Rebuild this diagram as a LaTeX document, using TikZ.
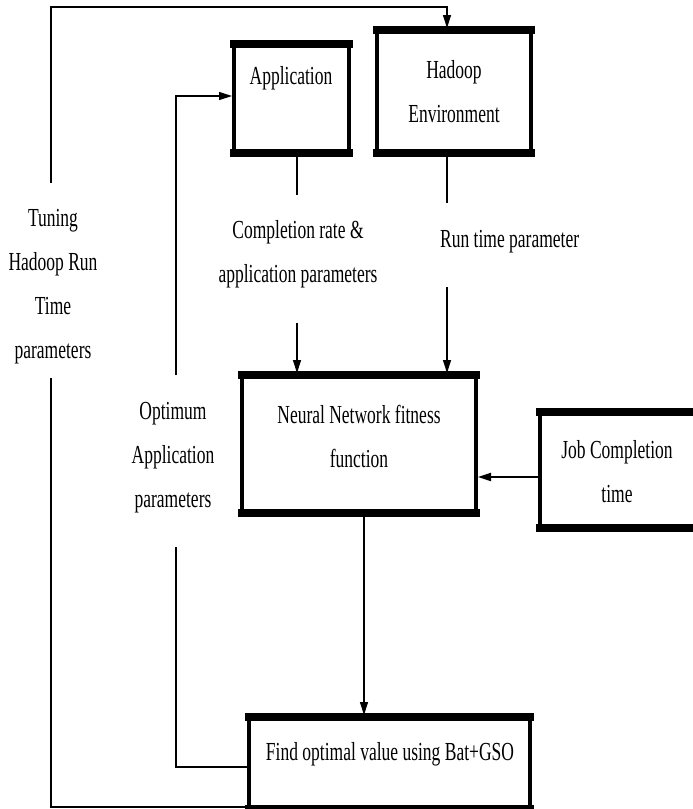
\documentclass[tikz,border=0pt]{standalone}
\usepackage{fontspec}
\setmainfont{Liberation Serif}[FakeStretch=0.673]
\usetikzlibrary{arrows.meta}
\tikzset{
  boxnode/.style={draw, line width=4pt, inner sep=0pt},
  band/.style={line width=8pt, shorten <=-2pt, shorten >=-2pt},
  txt/.style={font=\fontsize{26}{44}\selectfont, align=center, inner sep=0pt, anchor=base},
  conn/.style={line width=1.3pt},
  arr/.style={line width=1.3pt, -{Triangle[length=13pt,width=8pt]}},
}
\newcommand\boxbands[1]{%
  \draw[band] ([yshift=-2pt]#1.north west) -- ([yshift=-2pt]#1.north east);
  \draw[band] ([yshift=2pt]#1.south west) -- ([yshift=2pt]#1.south east);}
\begin{document}
\begin{tikzpicture}[x=1pt,y=-1pt]
\useasboundingbox (0,0) rectangle (693,809);
% boxes
\node[boxnode, minimum width=115pt, minimum height=109pt] (app) at (291.5,98.5) {};
\node[boxnode, minimum width=154pt, minimum height=123pt] (had) at (454,91.5) {};
\node[boxnode, minimum width=234pt, minimum height=138pt] (nn) at (359,444) {};
\node[boxnode, minimum width=178pt, minimum height=116pt] (job) at (629,470) {};
\node[boxnode, minimum width=281pt, minimum height=92pt] (find) at (389.5,763) {};
\boxbands{app}\boxbands{had}\boxbands{nn}\boxbands{job}\boxbands{find}
% box texts (base = baseline of last line)
\node[txt] (appT) at (291,84) {Application};
\node[txt] (hadT) at (454,122) {Hadoop\\Environment};
\node[txt] (nnT) at (359,467) {Neural Network fitness\\function};
\node[txt] (jobT) at (617,502) {Job Completion\\time};
\node[txt] (findT) at (390,760) {Find optimal value using Bat+GSO};
% labels
\node[txt] (comp) at (298,282) {Completion rate \&\\application parameters};
\node[txt, anchor=base west] (run) at (440,247) {Run time parameter};
\node[txt] (tune) at (53,358) {Tuning\\Hadoop Run\\Time\\parameters};
\node[txt] (opt) at (173,507) {Optimum\\Application\\parameters};
% connector bend points
\coordinate (c1) at (297,195);
\coordinate (c2) at (297,323);
\coordinate (r1) at (447,203);
\coordinate (r2) at (447,287);
\coordinate (o1) at (176,547);
\coordinate (o2) at (176,375);
\coordinate (t1) at (51,378);
\coordinate (t2) at (51,183);
\coordinate (tt) at (447,7);
% connectors
\draw[conn] ([xshift=5.5pt]app.south) -- (c1);
\draw[arr] (c2) -- (c2 |- nn.north);
\draw[conn] ([xshift=-7pt]had.south) -- (r1);
\draw[arr] (r2) -- (r2 |- nn.north);
\draw[arr] ([xshift=5pt]nn.south) -- ([xshift=5pt]nn.south |- find.north);
\draw[arr, line width=1.8pt] ([yshift=-7pt]job.west) -- ([yshift=-7pt]job.west -| nn.east);
\draw[conn] ([yshift=-4pt]find.west) -| (o1);
\draw[arr] (o2) |- ([yshift=2.5pt]app.west);
\draw[conn] ([yshift=-44pt]find.west) -| (t1);
\draw[arr] (t2) |- (tt) -- (tt |- had.north);
\end{tikzpicture}
\end{document}
